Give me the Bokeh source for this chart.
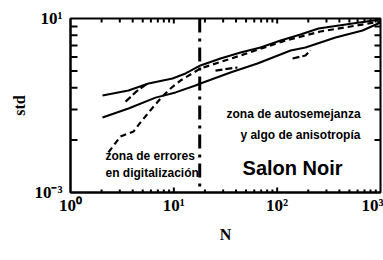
import math
from bokeh.plotting import figure
from bokeh.models import FixedTicker, Span, Label, Arrow, ColumnDataSource
from bokeh.embed import file_html
from bokeh.resources import INLINE

nan = float("nan")

# Series (N, std)
upper_n = [2.04, 3.64, 5.69, 9.71, 13.0, 18.1, 28.3, 44.2, 69, 108, 168, 251, 536, 1000]
upper_std = [3.61, 3.86, 4.23, 4.52, 4.83, 5.37, 5.89, 6.38, 6.81, 7.47, 8.09, 8.76, 9.36, 9.87]

lower_n = [2.04, 3.64, 6.65, 10.4, 16.2, 18.1, 35.3, 64.5, 135, 188, 367, 670, 1000]
lower_std = [2.70, 3.04, 3.51, 3.76, 4.12, 4.23, 4.89, 5.51, 6.55, 6.81, 7.78, 8.53, 9.48]

steep_n = [2.33, 2.61, 3.05, 4.07, 4.76, 5.69, 7.43, 9.29, 11.6, 14.5, 18.1, 44.2, 120, 262, 1000]
steep_std = [1.70, 1.86, 2.10, 2.24, 2.53, 2.88, 3.47, 3.96, 4.40, 4.77, 5.16, 6.13, 7.47, 8.42, 9.61]

extra_n = [3.41, 4.35, 5.56, nan, 25.3, 41.3, nan, 141, 188, 210]
extra_std = [3.33, 3.81, 4.23, nan, 5.02, 5.23, nan, 5.89, 6.13, 6.55]

boundary_n = 17.8

x_min, x_max = 1, 1000
y_min, y_max = 1, 10
x_ticks = [1, 10, 100, 1000]
x_minor = [m * d for d in (1, 10, 100) for m in range(2, 10)]
y_ticks = [1, 10]
y_minor = list(range(2, 10))
x_labels = {1: "10⁰", 10: "10¹", 100: "10²", 1000: "10³"}
y_labels = {1: "10⁻³", 10: "10¹"}

W, H = 383, 260
BL, BR, BT, BB = 70, 3, 18, 68

p = figure(width=W, height=H, x_axis_type="log", y_axis_type="log",
           x_range=(x_min, x_max), y_range=(y_min, y_max),
           output_backend="svg", toolbar_location=None,
           min_border_left=BL, min_border_right=BR, min_border_top=BT, min_border_bottom=BB)
p.xgrid.visible = False
p.ygrid.visible = False
p.outline_line_color = "black"
p.outline_line_width = 2

serif = "Liberation Serif"

bx = p.below[0]
ly = p.left[0]
bx.ticker = FixedTicker(ticks=x_ticks, minor_ticks=x_minor)
ly.ticker = FixedTicker(ticks=y_ticks, minor_ticks=y_minor)
bx.major_label_overrides = x_labels
ly.major_label_overrides = y_labels

for ax in (bx, ly):
    ax.major_label_text_font = serif
    ax.major_label_text_font_style = "bold"
    ax.major_label_text_font_size = "17px"
    ax.major_label_text_color = "black"
    ax.axis_label_text_font = serif
    ax.axis_label_text_font_style = "bold"
    ax.axis_label_text_font_size = "16px"
    ax.axis_label_text_color = "black"
    ax.axis_line_width = 2
    ax.axis_line_color = "black"
    ax.major_tick_in = 0
    ax.major_tick_out = 0
    ax.minor_tick_in = 0
    ax.minor_tick_out = 0

bx.axis_label = "N"
bx.major_label_standoff = 3
bx.axis_label_standoff = 8
ly.axis_label = "std"
ly.major_label_standoff = 8
ly.axis_label_standoff = 3

p.line(upper_n, upper_std, line_color="black", line_width=2)
p.line(lower_n, lower_std, line_color="black", line_width=2)
p.line(steep_n, steep_std, line_color="black", line_width=2.2, line_dash="6 4")
p.line(extra_n, extra_std, line_color="black", line_width=2.2, line_dash="7 3")

p.add_layout(Span(location=boundary_n, dimension="height", line_color="black",
                  line_width=3, line_dash="14 6 3 6"))

# inward tick marks on all four frame edges, drawn as head-less arrow annotations
px_per_dec_x = (W - BL - BR) / math.log10(x_max / x_min)
px_per_dec_y = (H - BT - BB) / math.log10(y_max / y_min)


def fx(px):
    return 10 ** (px / px_per_dec_x)


def fy(px):
    return 10 ** (px / px_per_dec_y)


x0, y0, x1, y1 = [], [], [], []
for v in y_minor:
    x0 += [x_min, x_max]
    x1 += [x_min * fx(7), x_max / fx(6)]
    y0 += [v, v]
    y1 += [v, v]
for v in x_minor:
    x0 += [v, v]
    x1 += [v, v]
    y0 += [y_min, y_max]
    y1 += [y_min * fy(3), y_max / fy(4)]
for v in x_ticks[1:-1]:
    x0 += [v, v]
    x1 += [v, v]
    y0 += [y_min, y_max]
    y1 += [y_min * fy(5), y_max / fy(5)]
tick_src = ColumnDataSource(dict(x0=x0, y0=y0, x1=x1, y1=y1))
p.add_layout(Arrow(start=None, end=None, x_start="x0", y_start="y0", x_end="x1", y_end="y1",
                   source=tick_src, line_color="black", line_width=2, level="overlay"))

sans = "Liberation Sans"
notes = [
    ("zona de autosemejanza", 144, 2.81, "center", "12px"),
    ("y algo de anisotropía", 168, 2.13, "center", "12px"),
    ("Salon Noir", 141, 1.39, "center", "20px"),
    ("zona de errores", 2.18, 1.63, "left", "12px"),
    ("en digitalización", 2.18, 1.29, "left", "12px"),
]
for txt, xx, yy, al, fs in notes:
    p.add_layout(Label(x=xx, y=yy, text=txt, text_align=al, text_baseline="middle",
                       text_font=sans, text_font_style="bold", text_font_size=fs,
                       text_color="black"))

open("out.html", "w").write(file_html(p, INLINE))
